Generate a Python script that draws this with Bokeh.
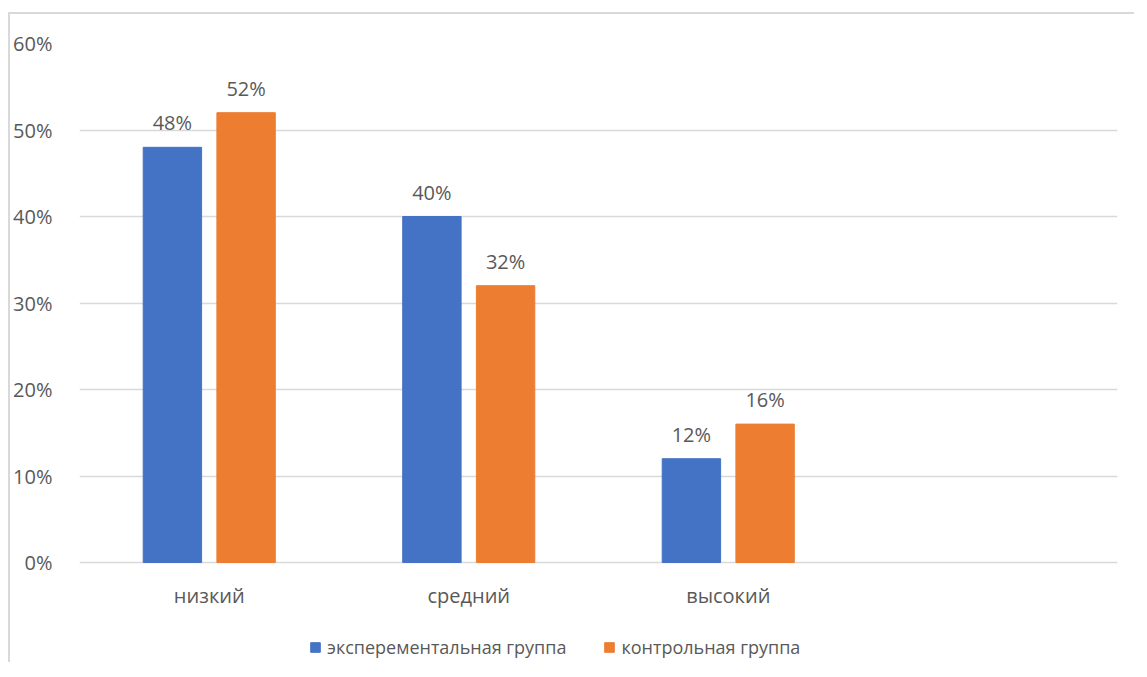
from bokeh.plotting import figure
from bokeh.models import (ColumnDataSource, Range1d, FixedTicker, NumeralTickFormatter,
                          Legend, LegendItem, LabelSet)
from bokeh.core.properties import value
from bokeh.transform import dodge
from bokeh.embed import file_html
from bokeh.resources import INLINE

categories = ["низкий", "средний", "высокий", " "]
levels = ["низкий", "средний", "высокий"]
experimental = [0.48, 0.40, 0.12]
control = [0.52, 0.32, 0.16]
series_names = ["эксперементальная группа", "контрольная группа"]
y_ticks = [0, 0.1, 0.2, 0.3, 0.4, 0.5, 0.6]

FONT = "Open Sans"
TXT = "#595959"
GRID = "#d9d9d9"
BLUE = "#4472C4"
ORANGE = "#ED7D31"

src = ColumnDataSource(dict(
    cat=levels,
    base=[0] * len(levels),
    exp=experimental,
    ctl=control,
    exp_lbl=[f"{round(v*100)}%" for v in experimental],
    ctl_lbl=[f"{round(v*100)}%" for v in control],
))

# the plotting frame extends below 0 to hold category names and the legend
p = figure(x_range=categories, y_range=Range1d(-0.1179, 0.6), width=1126, height=650,
           output_backend="svg", toolbar_location=None,
           min_border_left=62, min_border_right=19, min_border_top=29, min_border_bottom=0)
p.styles = {"border-top": "2px solid #d9d9d9", "border-left": "2px solid #d9d9d9",
            "margin-top": "12px", "margin-left": "8px"}
p.outline_line_color = None
p.background_fill_color = "white"
p.border_fill_color = "white"

r1 = p.vbar(x=dodge("cat", -0.142, range=p.x_range), top="exp", width=0.225,
            source=src, color=BLUE)
r2 = p.vbar(x=dodge("cat", 0.142, range=p.x_range), top="ctl", width=0.225,
            source=src, color=ORANGE)

for col, top, off in (("exp_lbl", "exp", -0.142), ("ctl_lbl", "ctl", 0.142)):
    p.add_layout(LabelSet(x=dodge("cat", off, range=p.x_range), y=top, text=col,
                          source=src, text_align="center", text_baseline="alphabetic",
                          y_offset=17, text_font=value(FONT), text_font_size="20px",
                          text_color=TXT))

# category names under the 0% line
p.text(x="cat", y="base", text="cat", source=src, text_align="center",
       text_baseline="alphabetic", y_offset=33, text_font=value(FONT),
       text_font_size="20px", text_color=TXT)

# axes
p.yaxis.ticker = FixedTicker(ticks=y_ticks)
p.yaxis.formatter = NumeralTickFormatter(format="0%")
p.yaxis.axis_line_color = None
p.yaxis.major_tick_line_color = None
p.yaxis.minor_tick_line_color = None
p.yaxis.major_label_standoff = 21
p.yaxis.major_label_text_font = FONT
p.yaxis.major_label_text_font_size = "20px"
p.yaxis.major_label_text_color = TXT
p.xaxis.visible = False

p.xgrid.grid_line_color = None
p.ygrid.grid_line_color = GRID
p.ygrid.grid_line_width = 1.5

legend = Legend(items=[LegendItem(label=series_names[0], renderers=[r1]),
                       LegendItem(label=series_names[1], renderers=[r2])],
                orientation="horizontal", location=(230, 5))
legend.border_line_color = None
legend.background_fill_alpha = 0
legend.padding = 0
legend.margin = 0
legend.glyph_width = 12
legend.glyph_height = 12
legend.label_height = 20
legend.label_standoff = 6
legend.spacing = 37
legend.label_text_font = FONT
legend.label_text_font_size = "18px"
legend.label_text_color = TXT
p.add_layout(legend, "center")

open("out.html", "w").write(file_html(p, INLINE))
